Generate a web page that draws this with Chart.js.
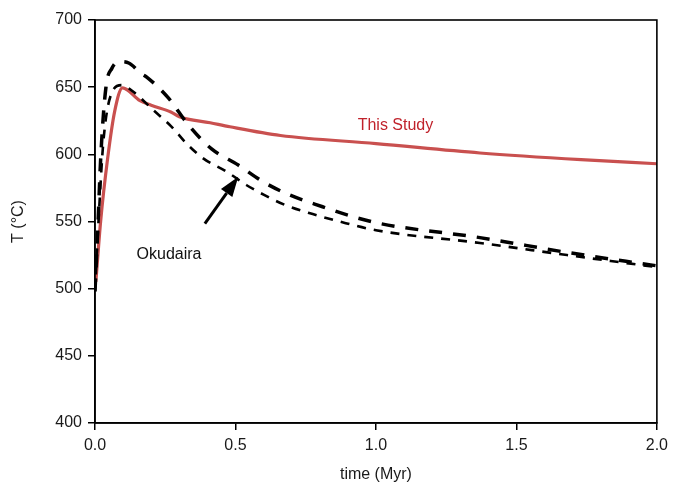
<!DOCTYPE html>
<html>
<head>
<meta charset="utf-8">
<script src="https://cdn.jsdelivr.net/npm/chart.js@4/dist/chart.umd.min.js"></script>
<style>
  html, body { margin: 0; padding: 0; background: #fff; }
  #wrap { width: 674px; height: 487px; }
</style>
</head>
<body>
<div id="wrap"><canvas id="chart" width="674" height="487"></canvas></div>
<script>
// data
var studyTime = [0.003, 0.02, 0.045, 0.07, 0.098, 0.16, 0.2, 0.27, 0.3, 0.41, 0.48, 0.66, 1.0, 1.37, 1.73, 2.0];
var studyTemp = [505, 550, 597, 632, 649.5, 640, 636.5, 631.5, 628, 623.5, 620.5, 614, 608, 601, 596, 593];

var okuOuterTime = [0.0, 0.01, 0.021, 0.039, 0.06, 0.088, 0.12, 0.165, 0.184, 0.261, 0.332, 0.415, 0.51, 0.595, 0.69, 0.81, 0.92, 1.014, 1.37, 1.68, 2.0];
var okuOuterTemp = [498, 545, 600, 650, 664, 669, 668, 660, 657.5, 642, 622, 604, 592, 580, 570, 561, 553.5, 548.5, 538, 527, 517];

var okuInnerTime = [0.0, 0.015, 0.03, 0.058, 0.094, 0.14, 0.207, 0.273, 0.326, 0.385, 0.469, 0.54, 0.6, 0.68, 0.775, 0.87, 1.0, 1.37, 1.68, 2.0];
var okuInnerTemp = [498, 560, 610, 645, 651.5, 646, 633, 620.5, 608, 597, 587, 577, 570, 562, 555.5, 550, 543.5, 534, 525, 516];

var xTicks = [0, 0.5, 1.0, 1.5, 2.0];
var yTicks = [400, 450, 500, 550, 600, 650, 700];

// label anchors, in data units
var labelStudy = { text: 'This Study', t: 0.935, T: 621.5 };
var labelOku = { text: 'Okudaira', t: 0.148, T: 525 };
var arrowFrom = { t: 0.391, T: 548.5 };
var arrowTo = { t: 0.51, T: 583.3 };

function pairs(xs, ys) {
    var out = [];
    for (var i = 0; i < xs.length; i++) out.push({ x: xs[i], y: ys[i] });
    return out;
}

var FONT = "'Liberation Sans', Arial, Helvetica, sans-serif";

var framePlugin = {
    id: 'frame',
    afterDatasetsDraw: function (chart) {
        var ctx = chart.ctx, a = chart.chartArea;
        var xs = chart.scales.x, ys = chart.scales.y;
        ctx.save();
        ctx.strokeStyle = '#000';
        ctx.lineWidth = 1.6;
        ctx.strokeRect(a.left, a.top, a.right - a.left, a.bottom - a.top);

        // text labels
        ctx.font = '16px ' + FONT;
        ctx.textBaseline = 'middle';
        ctx.textAlign = 'left';
        ctx.fillStyle = '#c0222b';
        ctx.fillText(labelStudy.text, xs.getPixelForValue(labelStudy.t), ys.getPixelForValue(labelStudy.T));
        ctx.fillStyle = '#111';
        ctx.fillText(labelOku.text, xs.getPixelForValue(labelOku.t), ys.getPixelForValue(labelOku.T));

        // arrow
        var x1 = xs.getPixelForValue(arrowFrom.t), y1 = ys.getPixelForValue(arrowFrom.T);
        var x2 = xs.getPixelForValue(arrowTo.t), y2 = ys.getPixelForValue(arrowTo.T);
        var ang = Math.atan2(y2 - y1, x2 - x1);
        var headLen = 20, headHalf = 7;
        var bx = x2 - headLen * Math.cos(ang), by = y2 - headLen * Math.sin(ang);
        ctx.strokeStyle = '#000';
        ctx.lineWidth = 3;
        ctx.beginPath();
        ctx.moveTo(x1, y1);
        ctx.lineTo(bx, by);
        ctx.stroke();
        ctx.fillStyle = '#000';
        ctx.beginPath();
        ctx.moveTo(x2, y2);
        ctx.lineTo(bx + headHalf * Math.sin(ang), by - headHalf * Math.cos(ang));
        ctx.lineTo(bx - headHalf * Math.sin(ang), by + headHalf * Math.cos(ang));
        ctx.closePath();
        ctx.fill();
        ctx.restore();
    }
};

new Chart(document.getElementById('chart').getContext('2d'), {
    type: 'scatter',
    data: {
        datasets: [
            {
                label: 'Okudaira (outer)',
                data: pairs(okuOuterTime, okuOuterTemp),
                showLine: true,
                borderColor: '#000',
                borderWidth: 3.5,
                borderDash: [13, 11],
                pointRadius: 0,
                cubicInterpolationMode: 'monotone',
                fill: false
            },
            {
                label: 'Okudaira (inner)',
                data: pairs(okuInnerTime, okuInnerTemp),
                showLine: true,
                borderColor: '#000',
                borderWidth: 2.6,
                borderDash: [9, 8],
                pointRadius: 0,
                cubicInterpolationMode: 'monotone',
                fill: false
            },
            {
                label: 'This Study',
                data: pairs(studyTime, studyTemp),
                showLine: true,
                borderColor: '#c9504f',
                borderWidth: 3.2,
                pointRadius: 0,
                cubicInterpolationMode: 'monotone',
                fill: false
            }
        ]
    },
    options: {
        responsive: false,
        animation: false,
        devicePixelRatio: 1,
        layout: { padding: { top: 20, right: 17, left: 0, bottom: 0 } },
        plugins: {
            legend: { display: false },
            tooltip: { enabled: false }
        },
        scales: {
            x: {
                type: 'linear',
                min: 0,
                max: 2,
                afterFit: function (s) { s.height = 64; },
                afterBuildTicks: function (s) { s.ticks = xTicks.map(function (v) { return { value: v }; }); },
                ticks: {
                    color: '#1a1a1a',
                    font: { family: FONT, size: 16 },
                    padding: 6,
                    maxRotation: 0,
                    callback: function (v) { return Number(v).toFixed(1); }
                },
                grid: { drawOnChartArea: false, drawTicks: true, tickLength: 7, color: '#000', lineWidth: 1.5 },
                border: { display: true, color: '#000', width: 1.6 },
                title: {
                    display: true,
                    text: 'time (Myr)',
                    color: '#1a1a1a',
                    font: { family: FONT, size: 16 },
                    padding: { top: 4, bottom: 3 }
                }
            },
            y: {
                min: 400,
                max: 700,
                afterFit: function (s) { s.width = 95; },
                afterBuildTicks: function (s) { s.ticks = yTicks.map(function (v) { return { value: v }; }); },
                ticks: {
                    color: '#1a1a1a',
                    font: { family: FONT, size: 16 },
                    padding: 6
                },
                grid: { drawOnChartArea: false, drawTicks: true, tickLength: 7, color: '#000', lineWidth: 1.5 },
                border: { display: true, color: '#000', width: 1.6 },
                title: {
                    display: true,
                    text: 'T (°C)',
                    color: '#1a1a1a',
                    font: { family: FONT, size: 16 },
                    padding: { top: 9, bottom: 4 }
                }
            }
        }
    },
    plugins: [framePlugin]
});
</script>
</body>
</html>
